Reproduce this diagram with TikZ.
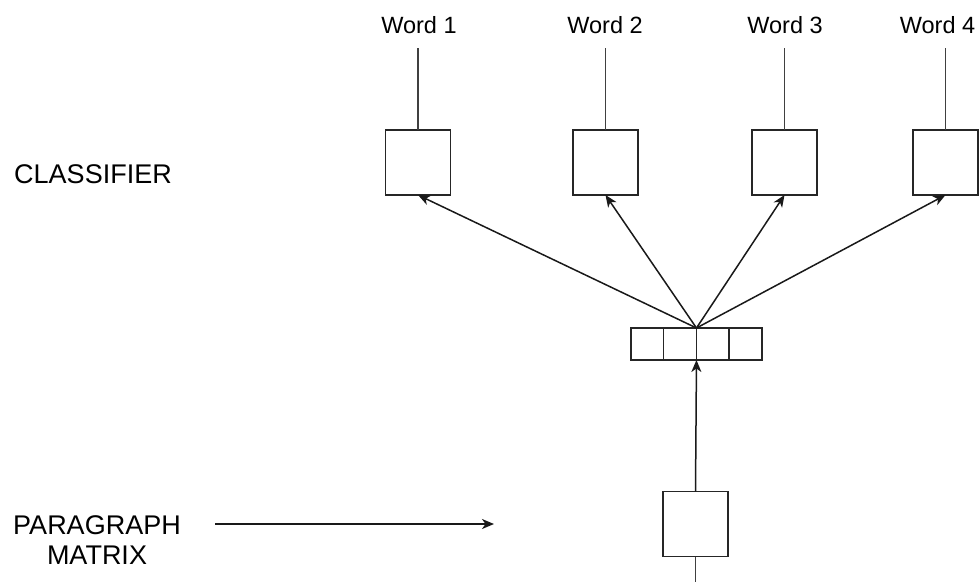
\documentclass[tikz,border=0pt]{standalone}
\usepackage{fontspec}
\setmainfont{Liberation Sans}
\usetikzlibrary{arrows.meta}
\begin{document}
\begin{tikzpicture}[x=1pt,y=-1pt,
  wire/.style={draw=black!90, line width=1.5pt},
  thinwire/.style={draw=black!75, line width=1.4pt},
  arr/.style={wire, -{Stealth[length=12pt,width=10pt,inset=3.5pt]}},
  unitbox/.style={draw=black!85, line width=1.5pt, fill=white, minimum width=65pt, minimum height=65pt, inner sep=0pt, outer sep=0pt},
  cell/.style={draw=black!85, line width=1.5pt, fill=white, minimum width=32.75pt, minimum height=32pt, inner sep=0pt, outer sep=0pt},
  wordlbl/.style={font=\fontsize{23.5pt}{26pt}\selectfont, inner sep=0pt},
  sidelbl/.style={font=\fontsize{27pt}{30pt}\selectfont, inner sep=0pt, align=center}]
\useasboundingbox (0,0) rectangle (979,581);

% output words
\node[wordlbl] (w1) at (419,25) {Word 1};
\node[wordlbl] (w2) at (605,25) {Word 2};
\node[wordlbl] (w3) at (785,25) {Word 3};
\node[wordlbl] (w4) at (937.5,25) {Word 4};
\coordinate (t1) at (418,48);
\coordinate (t2) at (605.5,48);
\coordinate (t3) at (784.5,48);
\coordinate (t4) at (945.5,48);

% classifier units
\node[unitbox] (c1) at (418,162.5) {};
\node[unitbox] (c2) at (605.5,162.5) {};
\node[unitbox] (c3) at (784.5,162.5) {};
\node[unitbox] (c4) at (945.5,162.5) {};

\foreach \i in {1,...,4} \draw[thinwire] (t\i) -- (c\i.north);

% paragraph vector
\node[cell] (v1) at (647.4,344) {};
\node[cell] (v2) at (680.1,344) {};
\node[cell] (v3) at (712.9,344) {};
\node[cell] (v4) at (745.6,344) {};
\coordinate (hub) at (v2.north east);

\foreach \i in {1,...,4} \draw[arr] (hub) -- (c\i.south);

% paragraph matrix column
\node[unitbox] (p) at (695.5,524) {};
\coordinate (pin) at (695.5,582);
\draw[thinwire] (pin) -- (p.south);
\draw[arr] (p.north) -- (v2.south east);

% side labels
\node[sidelbl] (cls) at (93,174) {CLASSIFIER};
\node[sidelbl] (pm) at (97,540) {PARAGRAPH\\MATRIX};
\coordinate (a0) at (215,524);
\coordinate (a1) at (494,524);
\draw[arr] (a0) -- (a1);
\end{tikzpicture}
\end{document}
